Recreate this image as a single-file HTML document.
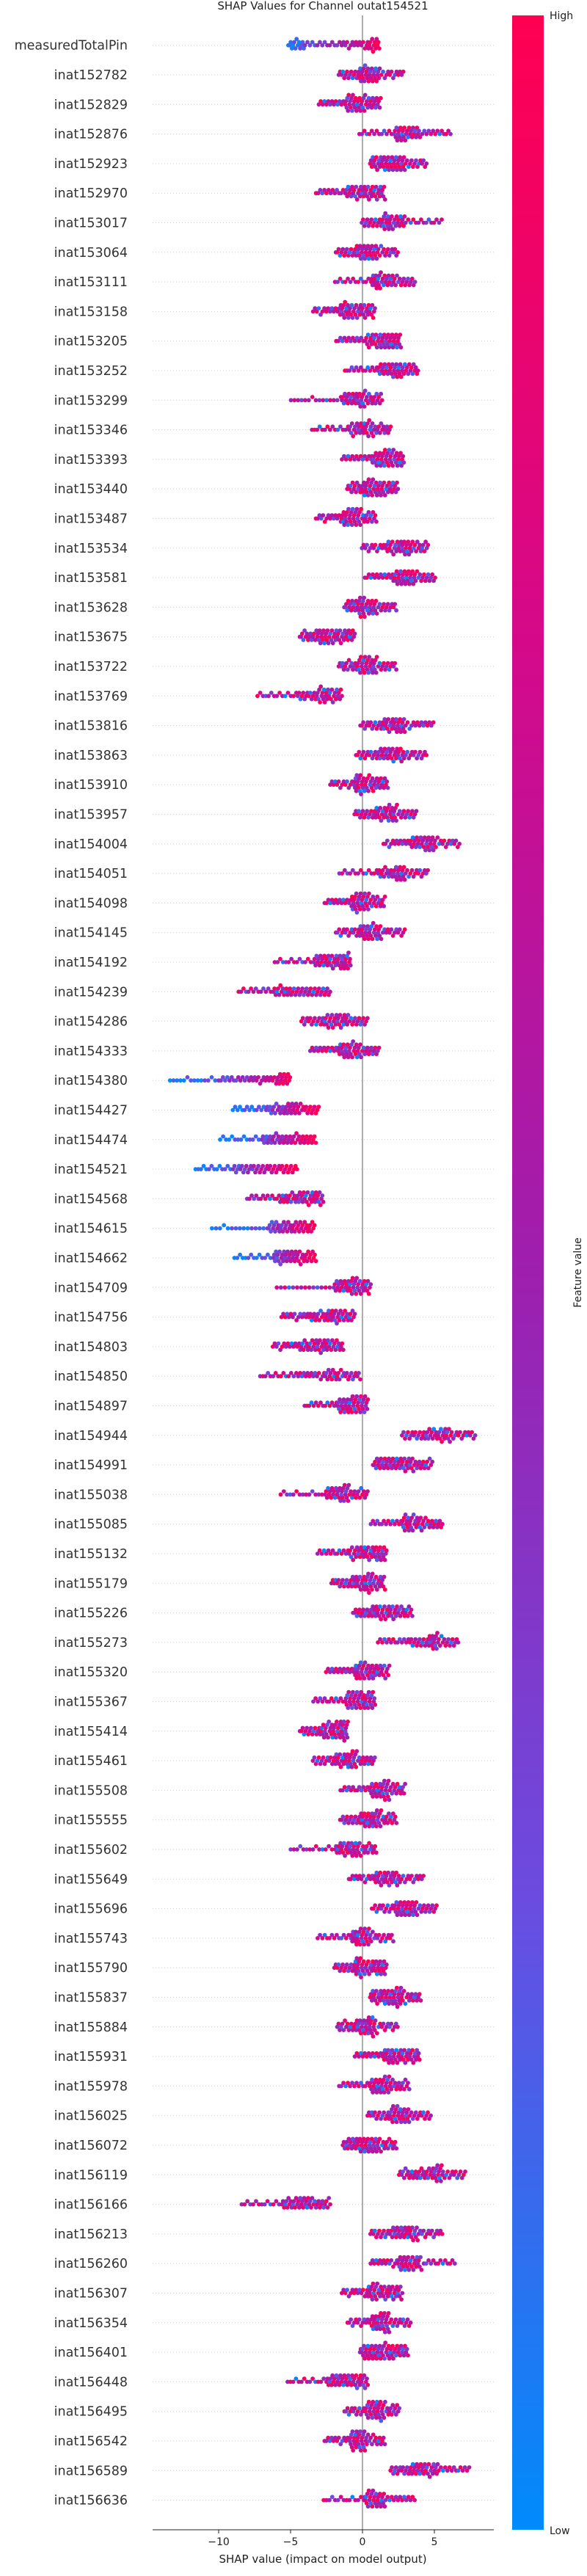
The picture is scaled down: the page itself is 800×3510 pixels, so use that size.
<!DOCTYPE html>
<html><head><meta charset="utf-8">
<style>
html,body{margin:0;padding:0;background:#fff;}
svg{display:block;font-family:"DejaVu Sans","Liberation Sans",sans-serif;}
</style></head>
<body>
<svg id="chart" width="800" height="3510" viewBox="0 0 800 3510" xmlns="http://www.w3.org/2000/svg">
<defs>
<linearGradient id="cbar" x1="0" y1="1" x2="0" y2="0">
<stop offset="0" stop-color="#008bfb"/><stop offset="0.25" stop-color="#6a4ce0"/><stop offset="0.5" stop-color="#9e1fae"/><stop offset="0.75" stop-color="#d4098a"/><stop offset="1" stop-color="#ff0052"/>
</linearGradient>
</defs>
<text x="440" y="13" font-size="15" text-anchor="middle" fill="#222">SHAP Values for Channel outat154521</text>
<g id="grid"></g>
<line x1="494" y1="21" x2="494" y2="3447" stroke="#999" stroke-width="1.6"/>
<g id="dots"></g>
<g id="labels"></g>
<g id="xaxis"></g>
<text x="440" y="3492" font-size="15" text-anchor="middle" fill="#222">SHAP value (impact on model output)</text>
<rect x="698" y="21" width="43" height="3426" fill="url(#cbar)"/>
<text x="749" y="26" font-size="14" fill="#222">High</text>
<text x="749" y="3453" font-size="14" fill="#222">Low</text>
<text x="792" y="1734" font-size="14" text-anchor="middle" fill="#222" transform="rotate(-90 792 1734)">Feature value</text>
</svg>
<script>
const features = ["measuredTotalPin","inat152782","inat152829","inat152876","inat152923","inat152970","inat153017","inat153064","inat153111","inat153158","inat153205","inat153252","inat153299","inat153346","inat153393","inat153440","inat153487","inat153534","inat153581","inat153628","inat153675","inat153722","inat153769","inat153816","inat153863","inat153910","inat153957","inat154004","inat154051","inat154098","inat154145","inat154192","inat154239","inat154286","inat154333","inat154380","inat154427","inat154474","inat154521","inat154568","inat154615","inat154662","inat154709","inat154756","inat154803","inat154850","inat154897","inat154944","inat154991","inat155038","inat155085","inat155132","inat155179","inat155226","inat155273","inat155320","inat155367","inat155414","inat155461","inat155508","inat155555","inat155602","inat155649","inat155696","inat155743","inat155790","inat155837","inat155884","inat155931","inat155978","inat156025","inat156072","inat156119","inat156166","inat156213","inat156260","inat156307","inat156354","inat156401","inat156448","inat156495","inat156542","inat156589","inat156636"];
const minVals = [-5.2,-1.7,-3.1,-0.3,0.5,-3.3,-0.1,-1.9,-2.0,-3.5,-1.9,-1.3,-5.1,-3.6,-1.5,-1.1,-3.3,-0.1,0.1,-1.3,-4.4,-1.7,-7.4,-0.2,-0.5,-2.3,-0.6,1.4,-1.7,-2.7,-1.9,-6.2,-8.7,-4.3,-3.7,-13.5,-9.1,-10.0,-11.7,-8.1,-10.6,-9.0,-6.1,-5.7,-6.3,-7.2,-4.1,2.7,0.7,-5.8,0.5,-3.2,-2.2,-0.7,1.0,-2.6,-3.5,-4.4,-3.5,-1.6,-1.6,-5.1,-1.0,0.6,-3.2,-2.0,0.5,-1.8,-0.6,-1.7,0.3,-1.4,2.5,-8.5,0.5,0.5,-1.5,-1.1,-0.2,-5.3,-1.3,-2.7,1.9,-2.8];
const q1Vals = [-4.0,-0.3,-1.2,2.2,1.4,-1.2,1.3,-0.5,0.6,-1.6,0.2,1.0,-1.5,-1.0,0.6,0.0,-1.5,1.6,2.1,-0.3,-3.2,-0.4,-4.6,1.3,1.0,-0.6,0.8,3.3,1.0,-0.8,-0.3,-3.4,-6.2,-2.8,-1.7,-10.0,-6.7,-7.0,-9.0,-5.8,-6.6,-6.2,-2.0,-3.8,-4.4,-4.6,-1.8,4.2,1.7,-2.6,2.7,-1.0,-0.8,0.6,3.2,-0.6,-1.2,-3.0,-2.0,0.5,-0.2,-1.9,0.8,2.2,-0.8,-0.6,1.4,-0.5,1.4,0.5,1.8,-0.4,3.8,-5.6,2.0,2.4,0.3,0.6,0.6,-2.5,0.2,-0.9,3.3,0.1];
const medVals = [-1.5,0.4,-0.5,3.0,2.2,-0.2,2.0,0.3,1.3,-0.9,1.1,2.0,-0.5,0.0,1.4,0.7,-0.8,2.6,2.9,0.2,-2.4,0.3,-3.2,2.2,2.0,0.0,1.7,4.3,2.2,-0.2,0.5,-2.4,-5.0,-1.9,-0.9,-7.8,-5.4,-5.8,-7.5,-4.6,-5.5,-5.3,-1.0,-2.5,-3.3,-2.7,-1.0,5.3,2.7,-1.6,3.4,0.0,0.1,1.5,4.6,0.1,-0.5,-2.2,-1.1,1.3,0.6,-1.0,1.7,3.0,-0.1,0.0,2.2,0.3,2.2,1.3,2.5,0.4,4.9,-4.5,3.0,3.2,1.0,1.3,1.4,-1.5,0.9,-0.3,4.3,0.8];
const q3Vals = [0.3,1.2,0.3,4.0,3.0,0.7,3.0,1.1,2.3,0.0,1.9,2.8,0.3,0.8,2.1,1.5,-0.1,3.4,3.7,1.0,-1.5,1.0,-2.4,3.0,2.9,0.8,2.4,5.1,3.0,0.5,1.3,-1.5,-3.6,-1.0,-0.1,-6.0,-4.4,-4.5,-6.0,-3.6,-4.4,-4.3,-0.3,-1.6,-2.4,-1.6,-0.3,6.2,3.6,-0.9,4.3,0.9,0.7,2.4,5.3,0.9,0.2,-1.5,-0.4,1.9,1.3,-0.2,2.6,3.8,0.6,0.9,2.8,0.9,3.1,2.0,3.3,1.2,5.6,-3.5,3.9,4.1,1.9,1.9,2.2,-0.5,1.5,0.3,5.3,1.6];
const maxVals = [1.2,2.9,1.3,6.2,4.5,1.6,5.6,2.5,3.7,0.9,2.7,3.9,1.4,2.0,2.9,2.5,1.0,4.6,5.1,2.4,-0.5,2.4,-1.4,5.0,4.5,1.8,3.8,6.8,4.6,1.6,3.0,-0.8,-2.2,0.4,1.2,-5.0,-3.0,-3.2,-4.5,-2.7,-3.3,-3.2,0.6,-0.5,-1.3,-0.1,0.4,7.9,4.9,0.4,5.6,1.7,1.6,3.5,6.7,1.9,0.9,-1.0,0.9,3.0,2.4,1.0,4.3,5.2,2.2,1.7,4.1,2.5,4.0,3.3,4.8,2.4,7.2,-2.2,5.6,6.5,2.8,3.4,3.2,0.4,2.6,1.6,7.5,3.7];
const colorTrend = [1,0,0,0,0,0,0,0,0,0,0,0,0,0,0,0,0,0,0,0,0,0,0,0,0,0,0,0,0,0,0,0,0,0,0,1,1,1,1,0,1,1,0,0,0,0,0,0,0,0,0,0,0,0,0,0,0,0,0,0,0,0,0,0,0,0,0,0,0,0,0,0,0,0,0,0,0,0,0,0,0,0,0,0];
const xTickVals = [-10,-5,0,5];
const xTickLabels = ["\u221210","\u22125","0","5"];

const NS = "http://www.w3.org/2000/svg";
const X0 = 494, PXU = 19.6, Y0 = 61.7, DY = 40.3;
function xScale(v){ return X0 + v*PXU; }
function yScale(i){ return Y0 + i*DY; }
function lerp(a,b,t){ return a+(b-a)*t; }
const stops = [[0,[0,139,251]],[0.25,[106,76,224]],[0.5,[158,31,174]],[0.75,[212,9,138]],[1,[255,0,82]]];
function cmap(t){
  t=Math.max(0,Math.min(1,t));
  for(let k=0;k<stops.length-1;k++){
    if(t<=stops[k+1][0]){
      const u=(t-stops[k][0])/(stops[k+1][0]-stops[k][0]);
      const a=stops[k][1],b=stops[k+1][1];
      return "rgb("+Math.round(lerp(a[0],b[0],u))+","+Math.round(lerp(a[1],b[1],u))+","+Math.round(lerp(a[2],b[2],u))+")";
    }
  }
  return "rgb(255,0,82)";
}
function quant(i,q){
  const v=[minVals[i],q1Vals[i],medVals[i],q3Vals[i],maxVals[i]];
  const s=q*4, k=Math.min(3,Math.floor(s));
  return lerp(v[k],v[k+1],s-k);
}
const grid=document.getElementById('grid'), dots=document.getElementById('dots'), labels=document.getElementById('labels'), xaxis=document.getElementById('xaxis');
const N=58;
features.forEach((name,i)=>{
  const y=yScale(i);
  const g=document.createElementNS(NS,'line');
  
  
  g.setAttribute('x1',208);g.setAttribute('x2',673);g.setAttribute('y1',y);g.setAttribute('y2',y);
  g.setAttribute('stroke','#ccc');g.setAttribute('stroke-width','1');g.setAttribute('stroke-dasharray','1,3');
  grid.appendChild(g);
  const t=document.createElementNS(NS,'text');
  
  
  t.setAttribute('x',174);t.setAttribute('y',y+6);t.setAttribute('text-anchor','end');t.setAttribute('font-size','17.5');t.setAttribute('fill','#333');
  t.textContent=name;
  labels.appendChild(t);
  const bins={};
  const pts=[];
  for(let j=0;j<N;j++){
    const q=(j+0.5)/N;
    const v=quant(i,q);
    const px=xScale(v);
    const b=Math.round(px/5.5);
    const c=bins[b]||0; bins[b]=c+1;
    const lvl=Math.ceil(c/2)%4;
    const off=(c%2===1?-1:1)*lvl*4.3;
    const dx=Math.floor(c/8)*2.5*(c%2?1:-1);
    let col;
    if(colorTrend[i]) col=q+(((j*7)%9)-4)*0.04;
    else {
      const f=((j*37+i*11)%61)/60;
      col=(j%7===3)?f*0.3:0.35+0.65*f;
    }
    pts.push([px+dx,y+off,col]);
  }
  pts.forEach(p=>{
    const c=document.createElementNS(NS,'circle');
    
    
    c.setAttribute('cx',p[0].toFixed(1));c.setAttribute('cy',p[1].toFixed(1));c.setAttribute('r','2.9');
    c.setAttribute('fill',cmap(p[2]));
    dots.appendChild(c);
  });
});
const ax=document.createElementNS(NS,'line');


ax.setAttribute('x1',208);ax.setAttribute('x2',673);ax.setAttribute('y1',3447);ax.setAttribute('y2',3447);ax.setAttribute('stroke','#222');ax.setAttribute('stroke-width','1');
xaxis.appendChild(ax);
xTickVals.forEach((v,k)=>{
  const x=xScale(v);
  const tk=document.createElementNS(NS,'line');
  
  
  tk.setAttribute('x1',x);tk.setAttribute('x2',x);tk.setAttribute('y1',3447);tk.setAttribute('y2',3452);tk.setAttribute('stroke','#222');
  xaxis.appendChild(tk);
  const tl=document.createElementNS(NS,'text');
  
  
  tl.setAttribute('x',x);tl.setAttribute('y',3468);tl.setAttribute('text-anchor','middle');tl.setAttribute('font-size','14');tl.setAttribute('fill','#222');
  tl.textContent=xTickLabels[k];
  xaxis.appendChild(tl);
});
</script>
</body></html>
